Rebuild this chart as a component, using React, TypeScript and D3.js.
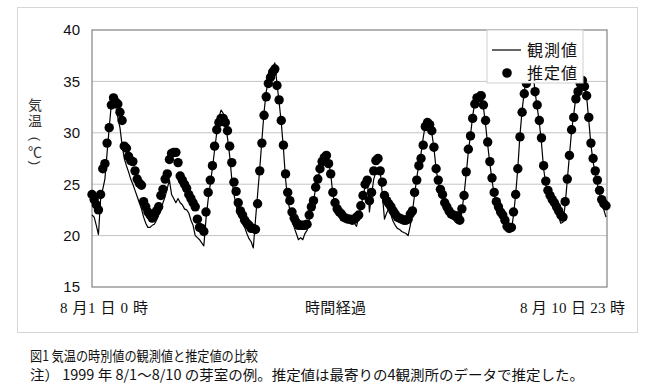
import * as d3 from "d3";

// 1999年8/1〜8/10 芽室 気温の時別値（毎時, 240点）
const observed = [
  22.0, 21.8, 21.0, 20.1, 23.5, 24.5, 25.5, 28.0, 30.5, 32.8, 33.2, 32.6,
  31.5, 30.5, 28.8, 27.5, 26.8, 26.2, 25.5, 25.0, 24.4, 23.8, 23.2, 22.6,
  21.8, 21.2, 20.8, 20.8, 21.0, 21.1, 21.5, 22.0, 22.5, 23.2, 23.8, 24.6,
  25.4, 24.0, 23.6, 23.2, 23.6, 23.2, 23.0, 22.6, 22.5, 22.2, 21.5, 21.0,
  20.0, 19.8, 19.6, 19.3, 19.0, 21.6, 23.5, 25.0, 26.6, 28.3, 30.0, 31.5,
  32.2, 31.9, 31.0, 29.5, 27.8, 25.5, 24.0, 23.0, 22.0, 21.7, 21.2, 20.8,
  20.2, 19.7, 19.4, 18.8, 21.5, 24.0, 26.5, 29.3, 32.0, 34.0, 35.0, 35.8,
  36.3, 36.8, 34.8, 33.0, 31.0, 28.5, 25.5, 23.5, 22.5, 21.5, 20.8, 20.2,
  19.6, 19.8, 19.6, 20.2, 20.5, 21.5, 22.6, 23.4, 24.6, 25.5, 26.4, 27.2,
  27.8, 28.1, 27.2, 26.0, 24.0, 23.0, 22.4, 22.0, 21.8, 21.6, 21.5, 21.4,
  21.4, 21.3, 21.2, 20.9, 21.8, 22.8, 23.8, 24.8, 25.5, 22.3, 24.0, 25.5,
  26.2, 26.0, 26.3, 24.0, 21.6, 22.2, 22.6, 22.0, 21.4, 21.0, 20.7, 20.6,
  20.4, 20.3, 20.2, 20.0, 21.0, 22.3, 24.0, 25.6, 27.0, 28.0, 29.5, 30.8,
  31.3, 31.0, 30.0, 28.5, 26.5, 25.2, 24.3, 23.6, 23.0, 22.5, 22.0, 21.8,
  21.6, 21.3, 21.2, 21.2, 22.4, 24.0, 26.0, 28.2, 29.8, 31.6, 33.0, 33.8,
  34.0, 33.6, 32.5, 30.8, 28.8, 27.0, 25.4, 24.0, 23.0, 22.5, 22.0, 21.6,
  21.0, 20.6, 20.3, 20.5, 22.0, 24.0, 26.6, 29.8, 32.2, 34.0, 35.5, 36.5,
  36.8, 36.0, 34.0, 32.5, 31.0, 29.0, 26.5, 25.0, 24.2, 23.6, 23.0, 22.6,
  22.2, 21.8, 21.2, 21.3, 23.0, 25.4, 27.8, 30.2, 31.8, 33.5, 34.4, 35.0,
  35.3, 34.6, 33.5, 31.2, 28.8, 27.2, 26.0, 25.0, 24.0, 23.2, 22.5, 21.8,
];

const estimated = [
  24.0, 23.5, 23.0, 22.5, 24.0, 26.5, 27.0, 29.0, 30.5, 32.7, 33.4, 33.0,
  32.8, 32.0, 31.2, 28.7, 28.5, 27.7, 27.3, 27.2, 26.3, 25.5, 25.1, 24.9,
  23.3, 22.8, 22.3, 22.0, 21.7, 22.0, 22.4, 22.8, 23.9, 24.5, 25.5, 26.0,
  27.4, 28.0, 28.1, 28.1, 27.1, 25.8, 25.4, 25.0, 24.6, 24.0, 23.6, 23.2,
  22.8, 21.6, 20.8, 20.7, 20.4, 22.3, 24.2, 25.4, 26.8, 28.7, 30.3, 31.0,
  31.4, 31.4, 31.0, 30.2, 28.7, 27.1, 25.2, 24.3, 23.2, 22.4, 22.0, 21.5,
  21.2, 21.0, 20.7, 20.7, 20.6, 23.1, 26.3, 29.0, 31.7, 33.5, 34.8, 35.4,
  35.9, 36.2, 34.6, 33.2, 31.2, 28.8, 26.0, 24.2, 23.4, 22.3, 21.7, 21.3,
  21.0, 21.0, 21.0, 21.0, 21.1, 22.0, 22.8, 23.4, 24.7, 25.5, 26.5, 27.2,
  27.6, 27.8, 27.0, 26.0, 24.2, 23.2, 22.6, 22.3, 22.1, 21.8, 21.7, 21.6,
  21.6, 21.5, 21.6, 21.8, 22.0, 22.9, 23.9, 25.0, 25.4, 23.4, 24.2, 26.3,
  27.3, 27.5, 26.3, 25.2, 23.9, 23.4, 23.1, 22.8, 22.4, 22.1, 21.8, 21.7,
  21.6, 21.5, 21.5, 21.6, 22.1, 22.4, 24.2, 25.4, 26.8, 27.5, 28.8, 30.6,
  31.0, 30.8, 30.2, 28.6, 26.5, 25.4, 24.5, 24.0, 23.2, 22.8, 22.4, 22.1,
  22.0, 21.9, 21.9, 21.5, 22.6, 23.9, 26.2, 28.4, 29.7, 31.4, 32.8, 33.4,
  33.4, 33.6, 32.7, 31.2, 29.1, 27.2, 25.6, 24.2, 23.3, 22.8, 22.3, 22.0,
  21.5, 20.9, 20.7, 20.8, 22.3, 24.0, 26.5, 29.6, 32.0, 33.8, 34.8, 35.8,
  36.2, 35.6, 34.0, 32.7, 31.2, 29.5, 26.8, 25.3, 24.4, 23.9, 23.5, 23.2,
  22.8, 22.4, 22.0, 21.8, 23.3, 25.5, 27.8, 30.3, 31.5, 33.3, 34.0, 34.8,
  35.1, 34.5, 33.6, 31.5, 29.0, 27.5, 26.3, 25.4, 24.4, 23.5, 23.1, 22.9,
];

const yTicks = [15, 20, 25, 30, 35, 40];
const gridTicks = [20, 25, 30, 35];
// 縦書きの軸タイトル: 括弧は90度回転して描く
const yTitleChars = [
  { ch: "気", cy: 104, rot: 0, font: "jp" },
  { ch: "温", cy: 120, rot: 0, font: "jp" },
  { ch: "(", cy: 139, rot: 90, font: "latin" },
  { ch: "℃", cy: 151, rot: 0, font: "jp" },
  { ch: ")", cy: 163, rot: 90, font: "latin" },
];
const legendLabels = ["観測値", "推定値"];
const xLabelStart = "8 月1 日 0 時";
const xLabelMid = "時間経過";
const xLabelEnd = "8 月 10 日 23 時";
const captionTitle = "図1  気温の時別値の観測値と推定値の比較";
const captionNote = "注） 1999 年 8/1～8/10  の芽室の例。推定値は最寄りの4観測所のデータで推定した。";

const W = 651;
const H = 392;
const plot = { left: 92, right: 607, top: 30, bottom: 287 };

const sansJP = "'Noto Sans CJK JP', 'Noto Sans', sans-serif";
const serifMix = "'Liberation Serif', 'Noto Sans CJK JP', serif";

export default function App() {
  const hours = d3.range(observed.length);
  const x = d3.scaleLinear().domain([0, hours.length - 1]).range([plot.left, plot.right - 1]);
  const y = d3.scaleLinear().domain([15, 40]).range([plot.bottom, plot.top]);

  const line = d3
    .line<number>()
    .x((_, i) => x(i))
    .y((d) => y(d));

  return (
    <svg
      width={W}
      height={H}
      viewBox={`0 0 ${W} ${H}`}
      style={{ position: "absolute", left: 0, top: 0, background: "#fff" }}
    >
      <rect x={0} y={0} width={W} height={H} fill="#fff" />
      {/* outer frame */}
      <rect x={17.5} y={7.5} width={620} height={325} fill="none" stroke="#d6d6d6" strokeWidth={1} />

      {/* grid */}
      {gridTicks.map((t) => (
        <line key={t} x1={plot.left} x2={plot.right} y1={y(t)} y2={y(t)} stroke="#c4c4c4" strokeWidth={1} />
      ))}

      {/* plot frame */}
      <rect
        x={plot.left}
        y={plot.top}
        width={plot.right - plot.left}
        height={plot.bottom - plot.top}
        fill="none"
        stroke="#8c8c8c"
        strokeWidth={1.3}
      />

      {/* y tick labels */}
      {yTicks.map((t) => (
        <text
          key={t}
          x={80}
          y={y(t)}
          dy="0.36em"
          textAnchor="end"
          fontFamily="'Liberation Sans', Arial, sans-serif"
          fontSize={15}
          fill="#111"
        >
          {t}
        </text>
      ))}

      {/* y title (vertical) */}
      {yTitleChars.map((c, i) => (
        <text
          key={i}
          x={0}
          y={0}
          textAnchor="middle"
          dominantBaseline="central"
          fontFamily={c.font === "jp" ? sansJP : "'Liberation Sans', sans-serif"}
          fontSize={c.font === "jp" ? 14 : 13}
          fill="#333"
          transform={`translate(35,${c.cy}) rotate(${c.rot})`}
        >
          {c.ch}
        </text>
      ))}

      {/* observed line */}
      <path d={line(observed) ?? ""} fill="none" stroke="#000" strokeWidth={1.2} strokeLinejoin="round" />

      {/* estimated markers */}
      {estimated.map((v, i) => (
        <circle key={i} cx={x(i)} cy={y(v)} r={4.7} fill="#000" />
      ))}

      {/* legend */}
      <g>
        <rect x={487} y={30} width={96} height={53} fill="#fff" stroke="#cfcfcf" strokeWidth={1} />
        <line x1={492} x2={521} y1={50} y2={50} stroke="#000" strokeWidth={1.2} />
        <circle cx={507} cy={73} r={4.8} fill="#000" />
        {legendLabels.map((l, i) => (
          <text
            key={l}
            x={527}
            y={50 + i * 23}
            dy="0.36em"
            fontFamily={sansJP}
            fontSize={16}
            letterSpacing={1}
            fill="#111"
          >
            {l}
          </text>
        ))}
      </g>

      {/* x labels */}
      <text x={60} y={308} dy="0.36em" fontFamily={serifMix} fontSize={15} fill="#111" textLength={88} lengthAdjust="spacing">
        {xLabelStart}
      </text>
      <text x={305} y={308} dy="0.36em" fontFamily={sansJP} fontSize={15} fill="#111" textLength={61} lengthAdjust="spacing">
        {xLabelMid}
      </text>
      <text x={520} y={308} dy="0.36em" fontFamily={serifMix} fontSize={15} fill="#111" textLength={105} lengthAdjust="spacing">
        {xLabelEnd}
      </text>

      {/* caption */}
      <text x={30} y={356} dy="0.36em" fontFamily={sansJP} fontSize={14} fill="#111" textLength={228} lengthAdjust="spacingAndGlyphs">
        {captionTitle}
      </text>
      <text x={30} y={375} dy="0.36em" fontFamily={sansJP} fontSize={14} fill="#111" textLength={554} lengthAdjust="spacingAndGlyphs">
        {captionNote}
      </text>
    </svg>
  );
}
